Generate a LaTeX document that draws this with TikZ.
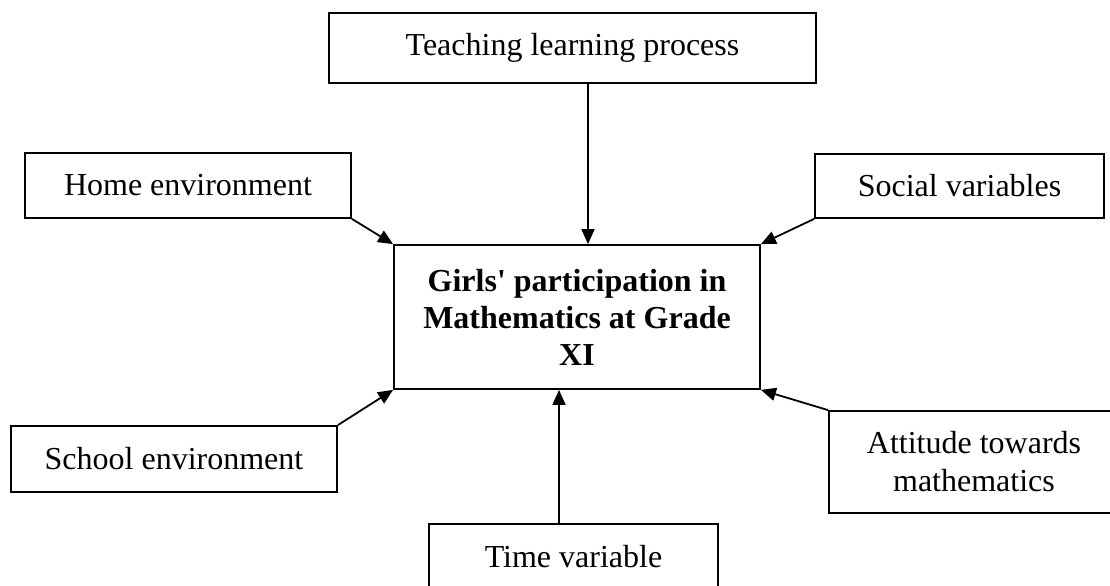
\documentclass[tikz,border=0pt]{standalone}
\usepackage{fontspec}
\setmainfont{Liberation Serif}
\usetikzlibrary{shapes,arrows.meta}

\begin{document}
\begin{tikzpicture}[x=0.5pt, y=-0.5pt,
  box/.style={draw, line width=0.9pt, inner sep=0pt, align=center,
    font=\fontsize{16}{19}\selectfont},
  arr/.style={line width=0.9pt, -{Triangle[length=7.5pt, width=6.5pt]}}]

\useasboundingbox (0,0) rectangle (1110,585);
\clip (0,0) rectangle (1110,585);

\node[box, minimum width=243.5pt, minimum height=35pt] (teach) at (572.5,48) {Teaching learning process};
\node[box, minimum width=163pt, minimum height=32.5pt] (home) at (188,185.5) {Home environment};
\node[box, minimum width=144.5pt, minimum height=32pt] (social) at (959.5,186) {Social variables};

\node[box, minimum width=183pt, minimum height=72pt,
  font=\fontsize{16}{18.5}\selectfont\bfseries] (main) at (577,317)
  {Girls\textquotesingle{} participation in\\Mathematics at Grade\\XI};

\node[box, minimum width=163pt, minimum height=33pt] (school) at (174,459) {School environment};
\node[box, minimum width=145pt, minimum height=51pt] (att) at (974,462) {Attitude towards\\mathematics};
\node[box, minimum width=144.5pt, minimum height=33pt] (time) at (573.5,557) {Time variable};

\draw[arr] ([xshift=7.75pt]teach.south) -- ([xshift=5.5pt]main.north);
\draw[arr] (home.south east) -- (main.north west);
\draw[arr] (social.south west) -- (main.north east);
\draw[arr] (school.north east) -- (main.south west);
\draw[arr] (att.north west) -- (main.south east);
\draw[arr] ([xshift=-7.25pt]time.north) -- ([xshift=-9pt]main.south);

\end{tikzpicture}
\end{document}
